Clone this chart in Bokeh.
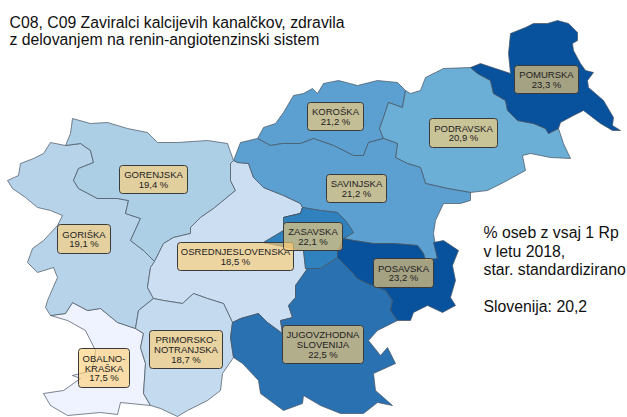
from bokeh.plotting import figure
from bokeh.models import Range1d
from bokeh.core.properties import value
from bokeh.embed import file_html
from bokeh.resources import INLINE

# ---- Shared region boundaries (map coordinates) ----
gor_gorenj = [(65,145),(80,143),(90,150),(93,162),(78,168),(73,180),(78,188),(97,198),(117,198),(128,200),(125,213),(140,218),(130,240),(143,250),(154,261)]
gor_west = [(65,145),(50,142),(43,153),(33,158),(20,163),(18,175),(7,180),(12,188),(25,197),(37,207),(50,210),(62,215),(57,225),(43,240),(32,248),(27,262),(37,272),(53,267),(57,277),(47,300),(45,307),(50,315),(65,313),(72,302)]
gor_obal = [(72,302),(87,310),(100,308),(117,322),(135,328)]
gor_prim = [(135,328),(138,310),(153,298)]
gor_osr = [(153,298),(147,287),(150,267),(154,261)]
gorenj_north = [(65,145),(70,133),(72,118),(90,123),(107,122),(127,128),(147,132),(157,142),(177,142),(207,140),(227,143),(233,160)]
gorenj_osr = [(233,160),(230,163),(230,180),(235,190),(213,208),(200,217),(190,227),(190,233),(173,237),(163,243),(154,261)]
osr_sav = [(233,160),(237,162),(248,163),(253,177),(263,187),(283,195),(300,203),(302,207)]
zas_top_left = [(302,207),(300,213),(283,217)]
osr_zas = [(283,217),(283,230),(263,242),(292,248),(303,250),(305,268),(307,268)]
osr_jug = [(307,268),(295,285),(295,297),(288,305),(292,317),(280,320),(282,333),(267,322),(258,313),(240,318),(232,322)]
osr_prim = [(232,322),(223,303),(207,298),(193,293),(182,303),(163,300),(153,298)]
prim_obal = [(135,328),(143,333),(140,347),(145,363),(143,393),(150,405)]
prim_south = [(150,405),(160,408),(177,416),(187,410),(207,400),(220,390),(222,373),(233,357),(230,337),(232,322)]
obal_rest = [(150,405),(120,402),(117,414),(100,412),(67,415),(50,405),(43,393),(63,390),(80,378),(72,375),(92,370),(95,350),(85,330),(67,320),(50,315)]
jug_west = [(232,322),(230,337),(233,357)]
jug_south = [(233,357),(242,363),(258,380),(260,393),(283,410),(302,403),(303,395),(320,405),(340,413),(363,413),(377,402),(392,405),(375,390),(373,373),(395,363),(387,347),(380,355),(368,340),(377,330),(397,320)]
jug_pos = [(397,320),(390,310),(392,300),(385,290),(365,282),(357,278),(348,268),(337,257)]
jug_zas = [(337,257),(320,268),(307,268)]
zas_north = [(283,217),(300,213),(302,207),(320,210),(337,212),(345,220),(353,232),(343,238)]
zas_pos = [(343,238),(337,250),(337,257)]
pos_sav = [(343,238),(353,240),(373,243),(393,243),(417,245),(423,253),(425,260),(437,258)]
pos_east = [(437,258),(433,242),(443,240),(458,250),(452,265),(455,280),(450,297),(455,305),(442,312),(427,305),(413,312),(410,320),(397,320)]
sav_kor = [(233,160),(240,142),(257,138),(270,145),(282,143),(300,143),(313,138),(333,145),(353,155),(363,155),(368,142),(383,138)]
sav_pod = [(383,138),(397,143),(395,157),(407,163),(420,167),(425,183),(447,188),(470,192)]
sav_east = [(470,192),(470,200),(460,203),(443,203),(435,220),(433,233),(437,258)]
kor_north = [(257,138),(263,127),(275,123),(283,112),(293,95),(303,93),(312,88),(317,93),(323,83),(338,80),(357,85),(377,80),(397,82),(405,90)]
kor_pod = [(405,90),(402,107),(388,102),(383,117),(379,128),(383,138)]
pod_north = [(405,90),(410,93),(420,90),(425,77),(443,68),(470,67)]
pod_pom = [(470,67),(477,73),(490,80),(493,93),(505,100),(507,110),(517,120),(533,123),(545,128),(548,133),(558,128)]
pod_east = [(558,128),(563,143),(570,158),(550,157),(530,153),(522,155),(525,170),(503,182),(487,190),(470,192)]
pom_north = [(470,67),(480,63),(495,68),(510,73),(508,53),(510,33),(525,27),(533,23),(547,23),(557,20),(568,23),(577,32),(577,40),(572,43),(573,50),(580,63),(585,70),(593,72),(587,80),(588,87),(603,100),(613,117),(612,125),(620,130),(612,130),(600,123),(583,110),(573,115),(560,122),(558,128)]

def rev(s):
    return s[::-1]

def ring(*segs):
    pts = []
    for s in segs:
        pts += s if not pts else s[1:]
    return pts

regions = [
    ("Obalno-kraška", "#EFF3FF", ring(gor_obal, prim_obal, obal_rest, [(50,315),(65,313),(72,302)])),
    ("Goriška", "#B7D3E9", ring(gor_west, gor_obal, gor_prim, gor_osr, rev(gor_gorenj))),
    ("Gorenjska", "#ACCFE6", ring(gorenj_north, gorenj_osr, rev(gor_gorenj))),
    ("Osrednjeslovenska", "#CCDFF2", ring(osr_sav, zas_top_left, osr_zas, osr_jug, osr_prim, gor_osr, rev(gorenj_osr))),
    ("Primorsko-notranjska", "#C3DAEF", ring(gor_prim, rev(osr_prim), rev(prim_south), rev(prim_obal))),
    ("Koroška", "#5BA0D0", ring(kor_north, kor_pod, rev(sav_kor[2:]))),
    ("Podravska", "#6BAED6", ring(pod_north, pod_pom, pod_east, rev(sav_pod), rev(kor_pod))),
    ("Savinjska", "#5BA0D0", ring(sav_kor, sav_pod, sav_east, rev(pos_sav), rev(zas_north), rev(zas_top_left), rev(osr_sav))),
    ("Zasavska", "#3082BF", ring(zas_north, zas_pos, jug_zas, rev(osr_zas))),
    ("Jugovzhodna Slovenija", "#2A71B2", ring(jug_west, jug_south, jug_pos, jug_zas, osr_jug)),
    ("Posavska", "#08519C", ring(pos_sav, pos_east, jug_pos, rev(zas_pos))),
    ("Pomurska", "#08519C", ring(pom_north, rev(pod_pom))),
]

# ---- Labels ----
label_lines = [
    ["GORENJSKA", "19,4 %"],
    ["GORIŠKA", "19,1 %"],
    ["OSREDNJESLOVENSKA", "18,5 %"],
    ["OBALNO-", "KRAŠKA", "17,5 %"],
    ["PRIMORSKO-", "NOTRANJSKA", "18,7 %"],
    ["ZASAVSKA", "22,1 %"],
    ["POSAVSKA", "23,2 %"],
    ["JUGOVZHODNA", "SLOVENIJA", "22,5 %"],
    ["KOROŠKA", "21,2 %"],
    ["SAVINJSKA", "21,2 %"],
    ["PODRAVSKA", "20,9 %"],
    ["POMURSKA", "23,3 %"],
]
label_boxes = [
    (119,187,165,193),(57,110,224,253),(177,293,242,270),(78,129,348,387),
    (149,222,330,368),(283,342,222,250),(373,433,258,287),(282,363,325,363),
    (307,363,102,130),(326,386,174,202),(429,497,118,147),(514,578,65,93),
]
title_lines = ["C08, C09 Zaviralci kalcijevih kanalčkov, zdravila",
               "z delovanjem na renin-angiotenzinski sistem"]
note_lines = ["% oseb z vsaj 1 Rp", "v letu 2018,", "star. standardizirano", "", "Slovenija: 20,2"]

W, H = 627, 417
p = figure(width=W, height=H, output_backend="svg", toolbar_location=None,
           x_range=Range1d(0, W), y_range=Range1d(H, 0),
           min_border=0, outline_line_color=None)
p.axis.visible = False
p.grid.visible = False
p.background_fill_color = "white"
p.border_fill_color = "white"

for name, col, pts in regions:
    p.patch([q[0] for q in pts], [q[1] for q in pts], fill_color=col,
            line_color="#46525e", line_width=0.7)

FONT = value("Liberation Sans")
for (l, r, t, b), lines in zip(label_boxes, label_lines):
    p.quad(left=[l], right=[r], top=[t], bottom=[b], fill_color="#FFCE75", fill_alpha=0.64,
           line_color="#3a3a3a", line_width=1, border_radius=3)
    cx = (l + r) / 2
    cy = (t + b) / 2
    n = len(lines)
    for i, s in enumerate(lines):
        p.text([cx], [cy + (i - (n - 1) / 2) * 9.8], text=[s], text_font=FONT,
               text_font_size="9.5px", text_align="center", text_baseline="middle",
               text_color="#222222")

for i, s in enumerate(title_lines):
    p.text([9], [22 + i * 16.5], text=[s], text_font=FONT, text_font_size="15.8px",
           text_baseline="middle", text_color="#111111")
for i, s in enumerate(note_lines):
    if s:
        p.text([483], [232 + i * 18.5], text=[s], text_font=FONT, text_font_size="15.8px",
               text_baseline="middle", text_color="#111111")

open("out.html", "w").write(file_html(p, INLINE))
